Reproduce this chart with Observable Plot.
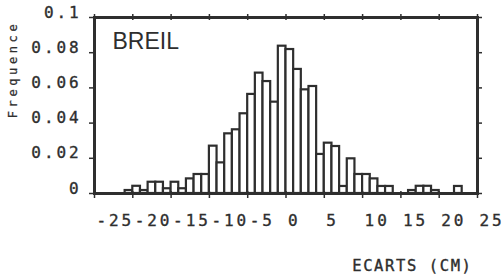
<!DOCTYPE html>
<html><head><meta charset="utf-8">
<script src="https://cdn.jsdelivr.net/npm/d3@7"></script>
<script src="https://cdn.jsdelivr.net/npm/@observablehq/plot@0.6"></script>
<style>
html,body{margin:0;padding:0;background:#fff;}
#chart svg{display:block;}
g[aria-label="x-axis tick label"] text, g[aria-label="y-axis tick label"] text {letter-spacing:2.9px; stroke:#2e2e2e; stroke-width:0.35px;}
text[aria-label="y title"] {letter-spacing:3.6px; stroke:#2e2e2e; stroke-width:0.25px;}
text[aria-label="x title"] {letter-spacing:1.6px; stroke:#2e2e2e; stroke-width:0.35px;}
</style></head><body><div id="chart"></div>
<script>
// Histogram of deviations (cm), 1-cm bins: left edge of each non-empty bin and its frequency
const binLeft = [-21,-20,-19,-18,-17,-16,-15,-14,-13,-12,-11,-10,-9,-8,-7,-6,-5,-4,-3,-2,-1,0,1,2,3,4,5,6,7,8,9,10,11,12,13,16,17,18,19,22];
const freq = [0.0017,0.0041,0.0017,0.0064,0.0064,0.0027,0.0064,0.0027,0.0083,0.0108,0.0108,0.0269,0.0174,0.0339,0.0362,0.0453,0.0563,0.0684,0.0636,0.0519,0.0837,0.0818,0.0705,0.0589,0.0608,0.0222,0.0286,0.0267,0.0040,0.0197,0.0108,0.0108,0.0083,0.0040,0.0040,0.0017,0.0041,0.0041,0.0017,0.0040];
const binWidth = 1;
const xTicks = [-25,-20,-15,-10,-5,0,5,10,15,20,25];
const yTicks = [0,0.02,0.04,0.06,0.08,0.1];
const yTickLabels = ["0","0.02","0.04","0.06","0.08","0.1"];
const title = "BREIL";
const xTitle = "ECARTS (CM)";
const yTitle = "Frequence";

const bins = binLeft.map((x, i) => ({x1: x, x2: x + binWidth, f: freq[i]}));
const ink = "#2e2e2e";

const chart = Plot.plot({
  width: 504, height: 274,
  marginLeft: 94, marginRight: 27, marginTop: 17, marginBottom: 81,
  style: {background: "#fff", color: ink, fontFamily: "'DejaVu Sans Mono', monospace", fontSize: "16px"},
  x: {domain: [-25, 25]},
  y: {domain: [0, 0.1]},
  marks: [
    Plot.rectY(bins, {x1: "x1", x2: "x2", y: "f", fill: "#fff", stroke: ink, strokeWidth: 2.2}),
    Plot.frame({stroke: ink, strokeWidth: 3}),
    Plot.axisX({ticks: xTicks, anchor: "bottom", tickSize: 7, dy: -2, text: null, label: null, stroke: ink, strokeWidth: 1.5}),
    Plot.axisX({ticks: xTicks, anchor: "top", tickSize: 6, dy: 2, text: null, label: null, stroke: ink, strokeWidth: 1.5}),
    Plot.axisY({ticks: yTicks, anchor: "left", tickSize: 7, dx: 2, text: null, label: null, stroke: ink, strokeWidth: 1.5}),
    Plot.axisY({ticks: yTicks, anchor: "right", tickSize: 6, dx: -2, text: null, label: null, stroke: ink, strokeWidth: 1.5}),
    Plot.axisX({ticks: xTicks, anchor: "bottom", tickSize: 0, tickPadding: 21, textAnchor: "start", dx: 2, label: null, fontSize: 16, fill: ink, tickFormat: d => String(d)}),
    Plot.axisY({ticks: yTicks, anchor: "left", tickSize: 0, tickPadding: 13, dy: -5, label: null, fontSize: 16, fill: ink, tickFormat: (d, i) => yTickLabels[yTicks.indexOf(d)]}),
    Plot.text([yTitle], {text: d => d, frameAnchor: "top-left", dx: -81, dy: 52, rotate: -90, textAnchor: "middle", lineAnchor: "middle", fontSize: 12, fill: ink, ariaLabel: () => "y title"}),
    Plot.text([xTitle], {text: d => d, frameAnchor: "bottom-right", dx: -5, dy: 73, textAnchor: "end", lineAnchor: "middle", fontSize: 15.5, fill: ink, ariaLabel: () => "x title"}),
    Plot.text([title], {text: d => d, frameAnchor: "top-left", dx: 18, dy: 24.5, textAnchor: "start", lineAnchor: "middle", fontSize: 23, fontFamily: "'Liberation Sans', Arial, sans-serif", fill: ink})
  ]
});
document.getElementById("chart").appendChild(chart);
</script>
</body></html>
